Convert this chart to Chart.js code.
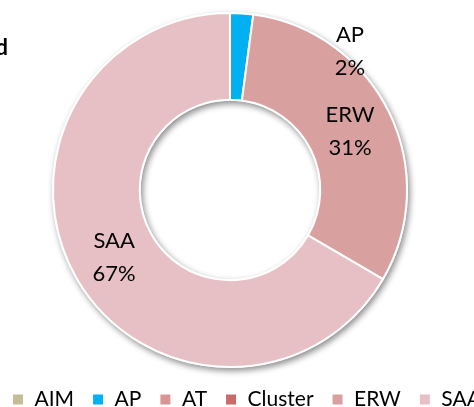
<!DOCTYPE html>
<html>
<head>
<meta charset="utf-8">
<script src="https://cdn.jsdelivr.net/npm/chart.js@4/dist/chart.umd.min.js"></script>
<style>
  html, body { margin: 0; padding: 0; background: #fff; overflow: hidden; }
</style>
</head>
<body>
<canvas id="share-doughnut" width="520" height="407"></canvas>
<script>
// data (percent of total)
const categories = ['AIM', 'AP', 'AT', 'Cluster', 'ERW', 'SAA'];
const shares = [0, 2.1, 0, 0, 31.3, 66.6];

const sliceColors = ['#C4BD97', '#00B0F0', '#DA9694', '#C96B69', '#D9A0A0', '#E6C0C4'];
const FONT = 'Lato, "Liberation Sans", sans-serif';

// white ring with a soft drop shadow behind the slices
const ringShadow = {
  id: 'ringShadow',
  beforeDatasetsDraw(chart) {
    const arc = chart.getDatasetMeta(0).data[0];
    if (!arc) return;
    const ctx = chart.ctx;
    ctx.save();
    ctx.shadowColor = 'rgba(0,0,0,0.45)';
    ctx.shadowBlur = 6;
    ctx.shadowOffsetX = 2;
    ctx.shadowOffsetY = 3;
    ctx.fillStyle = '#fff';
    ctx.beginPath();
    ctx.arc(arc.x, arc.y, arc.outerRadius + 1, 0, Math.PI * 2);
    ctx.arc(arc.x, arc.y, arc.innerRadius - 1, 0, Math.PI * 2, true);
    ctx.fill();
    ctx.restore();
  }
};

// category + percent labels on the slices
const sliceLabels = {
  id: 'sliceLabels',
  afterDatasetsDraw(chart) {
    const ctx = chart.ctx;
    const meta = chart.getDatasetMeta(0);
    const total = shares.reduce((a, b) => a + b, 0);
    ctx.save();
    ctx.font = '22px ' + FONT;
    ctx.fillStyle = '#000';
    ctx.textAlign = 'center';
    ctx.textBaseline = 'middle';
    meta.data.forEach((arc, i) => {
      if (!shares[i]) return;
      let {x, y} = arc.tooltipPosition(true);
      if (categories[i] === 'AP') { // label moved outside the thin slice
        x = arc.x + 120;
        y = arc.y - 139;
      }
      ctx.fillText(categories[i], x, y - 16);
      ctx.fillText(Math.round(shares[i] / total * 100) + '%', x, y + 17);
    });
    ctx.restore();
  },
  afterDraw(chart) {
    // tail of the title, cut off by the crop
    const ctx = chart.ctx;
    ctx.save();
    ctx.font = 'bold 22px ' + FONT;
    ctx.fillStyle = '#000';
    ctx.textAlign = 'right';
    ctx.textBaseline = 'alphabetic';
    ctx.fillText('d', 8, 55);
    ctx.restore();
  }
};

// put the ring and the legend where they sit in the picture
const placeBoxes = {
  id: 'placeBoxes',
  afterLayout(chart) {
    const a = chart.chartArea;
    a.left = 0; a.right = 460; a.width = 460;
    a.top = 12; a.bottom = 368; a.height = 356;
    const lg = chart.legend;
    lg.left = -6;
    lg.top = 371;
  }
};

const ctx = document.getElementById('share-doughnut').getContext('2d');
const chart = new Chart(ctx, {
  type: 'doughnut',
  data: {
    labels: categories,
    datasets: [{
      data: shares,
      backgroundColor: sliceColors,
      borderColor: '#fff',
      borderWidth: 2
    }]
  },
  options: {
    responsive: false,
    animation: false,
    cutout: '51%',
    layout: { padding: 0 },
    plugins: {
      legend: {
        position: 'bottom',
        align: 'start',
        labels: {
          boxWidth: 12,
          boxHeight: 12,
          padding: 18,
          color: '#000',
          font: { family: FONT, size: 21 }
        }
      },
      tooltip: { enabled: false },
      title: { display: false }
    }
  },
  plugins: [ringShadow, sliceLabels, placeBoxes]
});
</script>
</body>
</html>
